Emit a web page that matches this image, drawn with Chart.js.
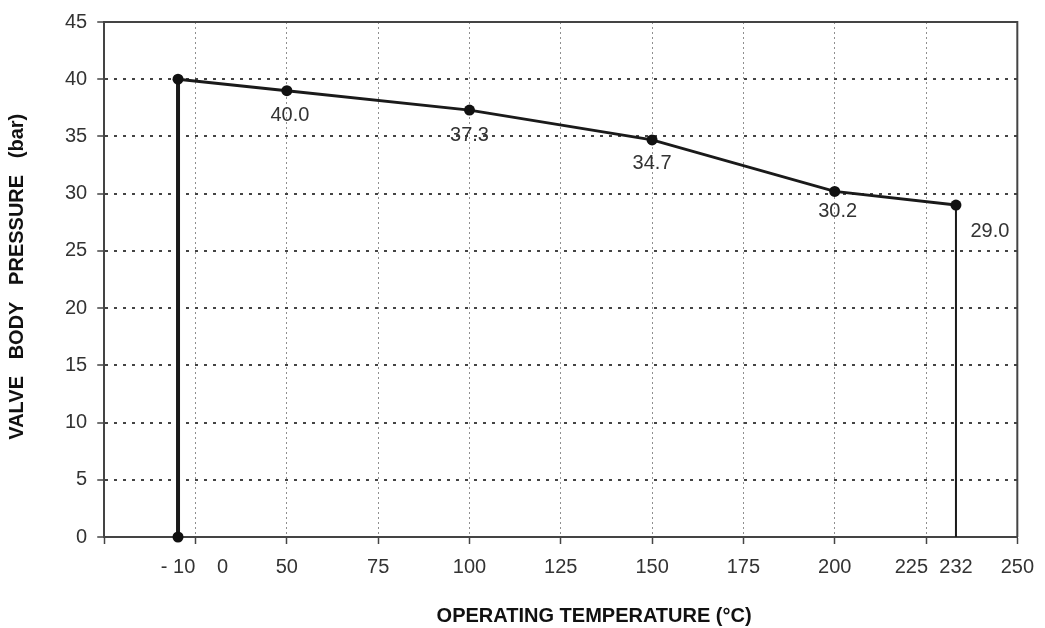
<!DOCTYPE html>
<html>
<head>
<meta charset="utf-8">
<script src="https://cdn.jsdelivr.net/npm/chart.js@4.4.1/dist/chart.umd.min.js"></script>
<style>
  html, body { margin: 0; padding: 0; background: #fff; }
</style>
</head>
<body>
<canvas id="chart" width="1045" height="628"></canvas>
<script>
// Rating curve: operating temperature (°C) vs valve body pressure (bar)
const temperatures = [-10, -10, 50, 100, 150, 200, 232, 232];
const pressures = [0, 40, 39.0, 37.3, 34.7, 30.2, 29.0, 0];
const valueLabels = ['', '', '40.0', '37.3', '34.7', '30.2', '29.0', ''];

// x axis tick labels (temperature they stand for + printed text)
const tickTemps = [-10, 0, 50, 75, 100, 125, 150, 175, 200, 225, 232, 250];
const tickLabels = ['- 10', '0', '50', '75', '100', '125', '150', '175', '200', '225', '232', '250'];

// the printed axis is not linear at its ends: temperature -> axis position
const axisWarp = [[-10, 20.2], [0, 32.4], [50, 50], [200, 200], [225, 221], [232, 233.2], [250, 250]];

// label offsets from their point, px
const labelOffsets = [null, null, [3, 25], [0, 25], [0, 24], [3, 20], [34, 26], null];

const FONT = '"Liberation Sans", Arial, sans-serif';
Chart.defaults.font.family = FONT;

function warp(t) {
    for (let i = 1; i < axisWarp.length; i++) {
        const [t0, p0] = axisWarp[i - 1];
        const [t1, p1] = axisWarp[i];
        if (t <= t1 || i === axisWarp.length - 1) {
            return p0 + (t - t0) * (p1 - p0) / (t1 - t0);
        }
    }
}

// linear scale in axis-position units; data values get warped, ticks don't
class WarpedScale extends Chart.LinearScale {
    determineDataLimits() {
        this.min = 0;
        this.max = 250;
    }
    getPixelForValue(value) {
        return super.getPixelForValue(warp(value));
    }
    getPixelForTick(index) {
        return super.getPixelForValue(this.ticks[index].value);
    }
}
WarpedScale.id = 'warped';
WarpedScale.defaults = Chart.LinearScale.defaults;
Chart.register(WarpedScale);

// top and right edge of the plot box
const framePlugin = {
    id: 'frame',
    beforeDatasetsDraw(chart) {
        const { ctx, chartArea: a } = chart;
        ctx.save();
        ctx.strokeStyle = '#444';
        ctx.lineWidth = 2;
        ctx.beginPath();
        ctx.moveTo(a.left, a.top);
        ctx.lineTo(a.right, a.top);
        ctx.lineTo(a.right, a.bottom);
        ctx.stroke();
        ctx.restore();
    }
};

// value labels next to the points
const pointLabelsPlugin = {
    id: 'pointLabels',
    afterDatasetsDraw(chart) {
        const { ctx } = chart;
        const meta = chart.getDatasetMeta(0);
        ctx.save();
        ctx.font = '20px ' + FONT;
        ctx.fillStyle = '#333';
        ctx.textAlign = 'center';
        ctx.textBaseline = 'middle';
        meta.data.forEach((pt, i) => {
            if (!valueLabels[i]) return;
            const [dx, dy] = labelOffsets[i];
            ctx.fillText(valueLabels[i], pt.x + dx, pt.y + dy);
        });
        ctx.restore();
    }
};

const last = temperatures.length - 1;

new Chart(document.getElementById('chart'), {
    type: 'line',
    data: {
        datasets: [{
            data: temperatures.map((t, i) => ({ x: t, y: pressures[i] })),
            borderColor: '#1a1a1a',
            borderWidth: 3,
            tension: 0,
            clip: false,
            pointRadius: ctx => ctx.dataIndex === last ? 0 : 5.5,
            pointBackgroundColor: '#111',
            pointBorderColor: '#111',
            pointBorderWidth: 0,
            segment: {
                borderWidth: ctx => ctx.p0DataIndex === 0 ? 4 : (ctx.p1DataIndex === last ? 2 : 3)
            }
        }]
    },
    options: {
        responsive: false,
        animation: false,
        devicePixelRatio: 1,
        events: [],
        layout: { padding: { top: 19, right: 23, bottom: 0, left: 0 } },
        plugins: {
            legend: { display: false },
            tooltip: { enabled: false }
        },
        scales: {
            x: {
                type: 'warped',
                position: 'bottom',
                afterBuildTicks: scale => {
                    const ticks = [];
                    for (let p = 0; p <= 250; p += 25) ticks.push({ value: p, text: '', grid: true });
                    tickTemps.forEach((t, i) => {
                        const p = warp(t);
                        const hit = ticks.find(k => Math.abs(k.value - p) < 0.01);
                        if (hit) hit.text = tickLabels[i];
                        else ticks.push({ value: p, text: tickLabels[i], grid: false });
                    });
                    scale.ticks = ticks.sort((a, b) => a.value - b.value);
                },
                ticks: {
                    autoSkip: false,
                    maxRotation: 0,
                    padding: 11,
                    color: '#333',
                    font: { size: 20 },
                    callback: (v, i, ticks) => ticks[i].text
                },
                grid: {
                    color: ctx => (ctx.tick && ctx.tick.grid && ctx.tick.value > 0 && ctx.tick.value < 250) ? '#8f8f8f' : 'rgba(0,0,0,0)',
                    lineWidth: 1,
                    tickColor: ctx => (ctx.tick && ctx.tick.grid) ? '#444' : 'rgba(0,0,0,0)',
                    tickLength: 7,
                    tickWidth: 1.5
                },
                border: { color: '#444', width: 2, dash: [2, 3] },
                title: {
                    display: true,
                    text: '            OPERATING TEMPERATURE (°C)',
                    color: '#111',
                    font: { size: 20, weight: 'bold' },
                    padding: { top: 14, bottom: 0 }
                }
            },
            y: {
                min: 0,
                max: 45,
                ticks: {
                    stepSize: 5,
                    padding: 10,
                    color: '#333',
                    font: { size: 20 }
                },
                grid: {
                    color: ctx => (ctx.tick && (ctx.tick.value === 0 || ctx.tick.value === 45)) ? 'rgba(0,0,0,0)' : '#444',
                    lineWidth: 2,
                    tickColor: '#444',
                    tickLength: 7,
                    tickWidth: 1.5
                },
                border: { color: '#444', width: 2, dash: [3, 6] },
                title: {
                    display: true,
                    text: ' VALVE   BODY   PRESSURE   (bar)',
                    color: '#111',
                    font: { size: 20, weight: 'bold' },
                    padding: { top: 5, bottom: 26 }
                }
            }
        }
    },
    plugins: [framePlugin, pointLabelsPlugin]
});
</script>
</body>
</html>
